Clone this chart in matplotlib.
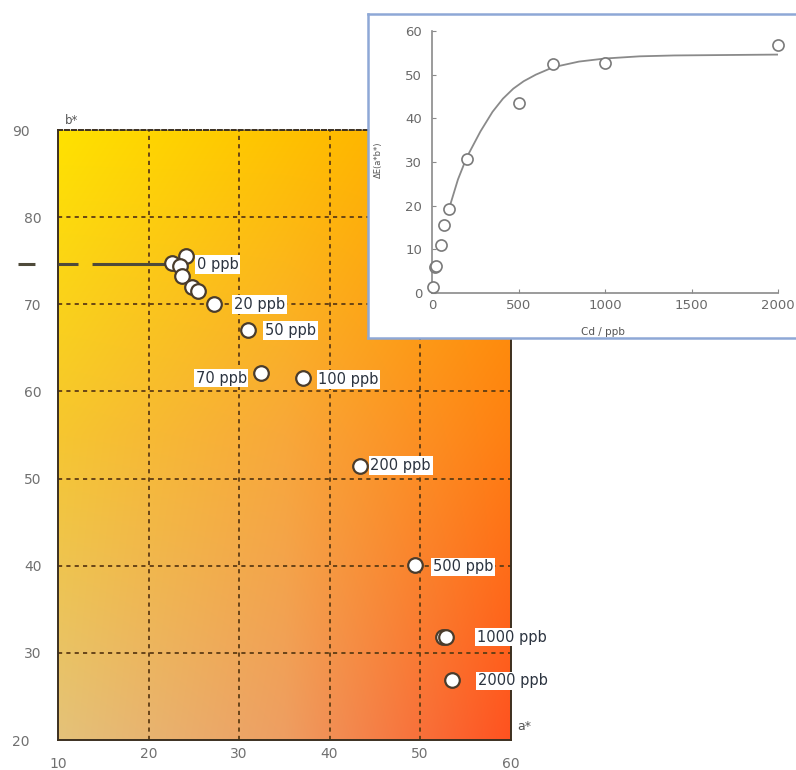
import numpy as np
import matplotlib
matplotlib.use("Agg")
import matplotlib.pyplot as plt
from matplotlib.transforms import ScaledTranslation

plt.rcParams["font.family"] = ["DejaVu Sans"]
plt.rcParams["lines.scale_dashes"] = False

# ---- colour coordinates (a*, b*) of the test solutions ----
a_star = [24.1, 22.6, 23.5, 23.7, 24.8, 25.5, 27.2, 31.0, 32.4, 37.1, 43.4, 49.4, 52.5, 52.9, 53.5]
b_star = [75.5, 74.7, 74.4, 73.3, 72.0, 71.5, 70.0, 67.0, 62.1, 61.5, 51.5, 40.1, 31.8, 31.8, 26.9]

# labelled points: (label, index into a_star/b_star)
labels = ["0 ppb", "20 ppb", "50 ppb", "70 ppb", "100 ppb", "200 ppb", "500 ppb", "1000 ppb", "2000 ppb"]
label_idx = [0, 6, 7, 8, 9, 10, 11, 13, 14]
label_off = [(11, -8), (20, 0), (17, 0), (-14, -5), (15, -1), (10, 0), (18, -2), (31, 0), (26, -1)]
label_ha = ["left", "left", "left", "right", "left", "left", "left", "left", "left"]

# reference b* level of the blank
b_ref = 74.6
a_ref_start, a_ref_end = 5.6, 23.0

x_ticks = [10, 20, 30, 40, 50, 60]
y_ticks = [20, 30, 40, 50, 60, 70, 80, 90]

# ---- colour difference vs. Cd concentration ----
cd_ppb = [5, 15, 25, 50, 70, 100, 200, 500, 700, 1000, 2000]
delta_e = [1.4, 6.0, 6.2, 11.0, 15.6, 19.3, 30.7, 43.6, 52.5, 52.7, 56.9]

curve_ppb = [100, 150, 200, 280, 350, 410, 470, 530, 600, 700, 850, 1000, 1200, 1400, 1700, 2000]
curve_de = [19.5, 26.0, 31.0, 37.0, 41.5, 44.5, 46.8, 48.5, 50.0, 51.7, 53.0, 53.7, 54.2, 54.4, 54.5, 54.6]

inset_x_ticks = [0, 500, 1000, 1500, 2000]
inset_y_ticks = [0, 10, 20, 30, 40, 50, 60]

W, H = 796, 770
fig = plt.figure(figsize=(W / 100, H / 100), dpi=100)


def fx(px):
    return px / W


def fy(py):
    return 1 - py / H


# ---------------- main a*-b* chart ----------------
ax = fig.add_axes([fx(58), fy(740), (510.5 - 58) / W, (740 - 130) / H])
ax.set_xlim(10, 60)
ax.set_ylim(20, 90)

# colour field behind the chart
ctrl = np.array([
    [[0xFF, 0xE2, 0x00], [0xFF, 0xC2, 0x00], [0xFF, 0xA2, 0x00]],
    [[0xF6, 0xC6, 0x30], [0xF8, 0xA8, 0x3A], [0xFF, 0x80, 0x12]],
    [[0xE4, 0xC2, 0x7A], [0xEE, 0x9E, 0x62], [0xFF, 0x52, 0x20]],
], dtype=float) / 255.0
n = 240
t = np.linspace(0, 2, n)
rows = np.empty((3, n, 3))
for r in range(3):
    for c in range(3):
        rows[r, :, c] = np.interp(t, [0, 1, 2], ctrl[r, :, c])
field = np.empty((n, n, 3))
for j in range(n):
    for c in range(3):
        field[:, j, c] = np.interp(t, [0, 1, 2], rows[:, j, c])
ax.imshow(field, extent=(10, 60, 20, 90), origin="upper", aspect="auto",
          interpolation="bilinear", zorder=0)

grid_col = "#5e3c14"
for xv in x_ticks[1:-1]:
    ax.axvline(xv, color=grid_col, lw=1.3, ls=(0, (3, 3)), zorder=1)
for yv in y_ticks[1:-1]:
    ax.axhline(yv, color=grid_col, lw=1.3, ls=(0, (3, 3)), zorder=1)

for side in ("left", "right", "bottom", "top"):
    ax.spines[side].set_color("#3c3020")
    ax.spines[side].set_linewidth(1.4)
ax.spines["top"].set_linestyle((0, (3, 2)))

ax.set_xticks(x_ticks)
ax.set_yticks(y_ticks)
ax.tick_params(length=0, labelsize=10, labelcolor="#707070")
ax.tick_params(axis="y", pad=12)
ax.tick_params(axis="x", pad=5)
for lbl in ax.get_yticklabels():
    if lbl.get_text() in ("90", "20"):
        lbl.set_transform(lbl.get_transform() + ScaledTranslation(-12 / 100, 0, fig.dpi_scale_trans))
for lbl in ax.get_xticklabels():
    if lbl.get_text() in ("10", "60"):
        lbl.set_transform(lbl.get_transform() + ScaledTranslation(0, -10 / 100, fig.dpi_scale_trans))

ax.text(10.8, 90.3, "b*", fontsize=8.5, color="#555555", ha="left", va="bottom")
ax.text(60.8, 20.8, "a*", fontsize=9, color="#555555", ha="left", va="bottom", clip_on=False)

# blank reference level
ax.plot([a_ref_start, a_ref_end], [b_ref, b_ref], color="#4e4a3a", lw=2.2,
        dashes=(12.2, 16.6, 14.4, 10.1, 60, 0), clip_on=False, zorder=3)

ax.plot(a_star, b_star, ls="none", marker="o", ms=10.5, mfc="white",
        mec="#4a3c2c", mew=1.6, zorder=5)

for text, i, (dx, dy), ha in zip(labels, label_idx, label_off, label_ha):
    ax.annotate(text, xy=(a_star[i], b_star[i]), xytext=(dx, dy),
                textcoords="offset pixels", ha=ha, va="center",
                fontsize=10.5, color="#2c3440", zorder=6,
                bbox=dict(boxstyle="square,pad=0.12", fc="white", ec="none"))

# ---------------- inset: ΔE vs Cd ----------------
frame = fig.add_axes([fx(368), fy(338), (805 - 368) / W, (338 - 14) / H])
frame.set_xticks([])
frame.set_yticks([])
frame.set_facecolor("white")
for side in frame.spines.values():
    side.set_color("#8ea8d6")
    side.set_linewidth(1.8)
frame.set_zorder(3)

ins = fig.add_axes([fx(432), fy(293), (778 - 432) / W, (293 - 31) / H])
ins.set_zorder(4)
ins.patch.set_alpha(0)
ins.set_xlim(0, 2000)
ins.set_ylim(0, 60)
ins.spines["top"].set_visible(False)
ins.spines["right"].set_visible(False)
for side in ("left", "bottom"):
    ins.spines[side].set_color("#8a8a8a")
    ins.spines[side].set_linewidth(1.2)
ins.set_xticks(inset_x_ticks)
ins.set_yticks(inset_y_ticks)
ins.tick_params(direction="in", length=3, color="#8a8a8a", labelsize=9.5, labelcolor="#6a6a6a")
ins.tick_params(axis="y", pad=7)
ins.tick_params(axis="x", pad=4)

ins.plot(curve_ppb, curve_de, color="#8a8a8a", lw=1.3, zorder=2)
ins.plot(cd_ppb, delta_e, ls="none", marker="o", ms=8, mfc="white",
         mec="#7a7a7a", mew=1.2, clip_on=False, zorder=3)

ins.set_xlabel("Cd / ppb", fontsize=7.5, color="#555555")
ins.xaxis.set_label_coords((603 - 432) / 346, (293 - 327) / 262)
ins.set_ylabel("ΔE(a*b*)", fontsize=6, color="#555555")
ins.yaxis.set_label_coords((383 - 432) / 346, (293 - 160) / 262)

fig.savefig("out.png", dpi=100)
